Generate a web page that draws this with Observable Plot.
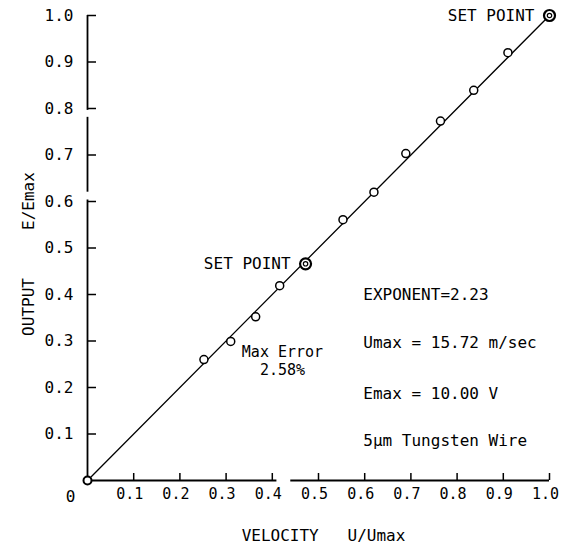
<!DOCTYPE html>
<html><head><meta charset="utf-8">
<script src="https://cdn.jsdelivr.net/npm/d3@7"></script>
<script src="https://cdn.jsdelivr.net/npm/@observablehq/plot@0.6"></script>
<style>
body{margin:0;background:#fff;}
#chart svg{display:block;}
</style></head><body><div id="chart"></div>
<script>
// Calibration points (velocity U/Umax, output E/Emax)
const velocity = [0.252, 0.310, 0.364, 0.416, 0.553, 0.620, 0.689, 0.764, 0.836, 0.910];
const output   = [0.260, 0.299, 0.352, 0.419, 0.561, 0.620, 0.703, 0.773, 0.839, 0.920];
// Set points
const setPointU = [0.472, 1.0];
const setPointE = [0.466, 1.0];
// Origin
const originU = [0];
const originE = [0];
// Fitted curve end points
const fitU = [0, 1];
const fitE = [0, 1];
// Ticks
const tickValues = [0.1, 0.2, 0.3, 0.4, 0.5, 0.6, 0.7, 0.8, 0.9, 1.0];
const tickLabels = ["0.1", "0.2", "0.3", "0.4", "0.5", "0.6", "0.7", "0.8", "0.9", "1.0"];
const zeroLabel = ["0"];
// Texts
const xTitle = "VELOCITY\u00a0\u00a0\u00a0U/Umax";
const yTitle = "OUTPUT\u00a0\u00a0\u00a0\u00a0\u00a0E/Emax";
const setPointLabel = "SET POINT";
const infoLines = ["EXPONENT=2.23", "Umax = 15.72 m/sec", "Emax = 10.00 V", "5\u03bcm Tungsten Wire"];
const infoE = [0.400, 0.295, 0.187, 0.086];
const errorLines = ["Max Error", "2.58%"];
const errorE = [0.275, 0.237];

const points = velocity.map((u, i) => ({u, e: output[i]}));
const setPoints = setPointU.map((u, i) => ({u, e: setPointE[i]}));
const fit = fitU.map((u, i) => ({u, e: fitE[i]}));
const info = infoLines.map((t, i) => ({t, e: infoE[i]}));
const errorNote = errorLines.map((t, i) => ({t, e: errorE[i]}));
const labelOf = d => tickLabels[tickValues.indexOf(d)];

const xAxisSegments = [[0, 0.410], [0.440, 1.0]];
const yAxisSegments = [[0, 0.603], [0.620, 0.781], [0.796, 1.0]];

const FONT = "'DejaVu Sans Mono', monospace";

const chart = Plot.plot({
  width: 562,
  height: 545,
  marginLeft: 87,
  marginRight: 13,
  marginTop: 15,
  marginBottom: 65,
  x: {domain: [0, 1]},
  y: {domain: [0, 1]},
  style: {fontFamily: FONT, fontSize: "16px", color: "black", background: "white"},
  marks: [
    // axis lines (with the scan's small breaks)
    Plot.ruleY(xAxisSegments, {y: () => 0, x1: d => d[0], x2: d => d[1], stroke: "black", strokeWidth: 1.8}),
    Plot.ruleX(yAxisSegments, {x: () => 0, y1: d => d[0], y2: d => d[1], stroke: "black", strokeWidth: 1.8}),
    // inward ticks
    Plot.ruleX(tickValues, {x: d => d, y1: () => 0, y2: () => 0, insetTop: -7, stroke: "black", strokeWidth: 1.5}),
    Plot.ruleY(tickValues, {y: d => d, x1: () => 0, x2: () => 0, insetRight: -9, stroke: "black", strokeWidth: 1.5}),
    // tick labels
    Plot.axisX({ticks: tickValues, tickSize: 0, tickPadding: 8, tickFormat: labelOf, label: null, fontSize: 15, dx: -4}),
    Plot.axisY({ticks: tickValues, tickSize: 0, tickPadding: 14, tickFormat: labelOf, label: null, fontSize: 16}),
    Plot.text(zeroLabel, {x: () => 0, y: () => 0, text: d => d, dx: -17, dy: 16, fontSize: 16}),
    // axis titles
    Plot.text([xTitle], {frameAnchor: "bottom", text: d => d, dx: 5, dy: 55, textAnchor: "middle", lineAnchor: "middle", fontSize: 16}),
    Plot.text([yTitle], {frameAnchor: "left", text: d => d, rotate: -90, dx: -59, dy: 6, textAnchor: "middle", lineAnchor: "middle", fontSize: 16}),
    // fitted line
    Plot.line(fit, {x: "u", y: "e", stroke: "black", strokeWidth: 1.3}),
    // data points
    Plot.dot(points, {x: "u", y: "e", r: 4, stroke: "black", strokeWidth: 1.5, fill: "white"}),
    Plot.dot(originU.map((u, i) => ({u, e: originE[i]})), {x: "u", y: "e", r: 4, stroke: "black", strokeWidth: 2, fill: "white"}),
    Plot.dot(setPoints, {x: "u", y: "e", r: 5.5, stroke: "black", strokeWidth: 2.2, fill: "white"}),
    Plot.dot(setPoints, {x: "u", y: "e", r: 2.2, stroke: "black", strokeWidth: 1.2, fill: "none"}),
    // annotations
    Plot.text(setPoints, {x: "u", y: "e", text: () => setPointLabel, textAnchor: "end", dx: -15, fontSize: 16}),
    Plot.text(info, {x: () => 0.597, y: "e", text: "t", textAnchor: "start", fontSize: 16}),
    Plot.text(errorNote, {x: () => 0.422, y: "e", text: "t", textAnchor: "middle", fontSize: 15})
  ]
});
document.getElementById("chart").appendChild(chart);
</script>
</body></html>
